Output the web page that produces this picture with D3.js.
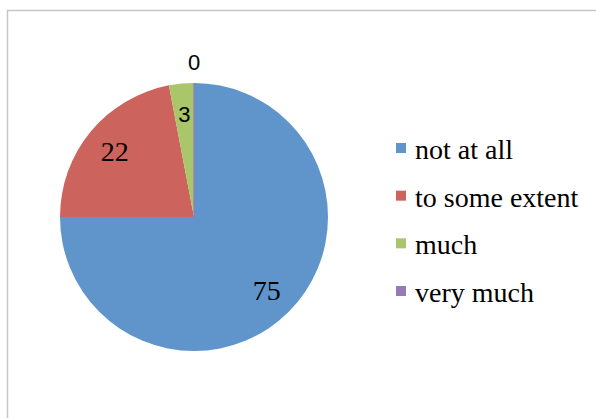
<!DOCTYPE html>
<html><head><meta charset="utf-8">
<script src="https://cdn.jsdelivr.net/npm/d3@7"></script>
<style>html,body{margin:0;padding:0;background:#fff;}svg{display:block;}</style>
</head><body>
<svg id="chart" width="596" height="418"></svg>
<script>
const categories = ["not at all", "to some extent", "much", "very much"];
const values = [75, 22, 3, 0];
const colors = ["#5f95cb", "#cc635d", "#a9c66a", "#9879b7"];

const svg = d3.select("#chart");
svg.append("rect").attr("x", 7.5).attr("y", 10.5).attr("width", 800).attr("height", 800)
  .attr("fill", "#fff").attr("stroke", "#c6c6c6").attr("stroke-width", 1.5);

const cx = 194, cy = 217, r = 134;
const pie = d3.pie().sort(null).value(d => d).startAngle(0).endAngle(2 * Math.PI);
const arcs = pie(values);
const arc = d3.arc().innerRadius(0).outerRadius(r);
const labelArc = d3.arc().innerRadius(103).outerRadius(103);
const outArc = d3.arc().innerRadius(r + 21).outerRadius(r + 21);

const g = svg.append("g").attr("transform", `translate(${cx},${cy})`);
g.selectAll("path.slice").data(arcs).join("path").attr("class", "slice")
  .attr("d", arc).attr("fill", (d, i) => colors[i])
  .attr("stroke", (d, i) => d.value === 0 ? colors[i] : "none").attr("stroke-width", 1.2);

svg.selectAll("text.lbl").data(arcs).join("text").attr("class", "lbl")
  .attr("x", d => cx + (d.value === 0 ? outArc : labelArc).centroid(d)[0])
  .attr("y", d => cy + (d.value === 0 ? outArc : labelArc).centroid(d)[1] + (d.value < 10 ? 8 : 10))
  .attr("text-anchor", "middle")
  .style("font-family", d => d.value < 10 ? '"Liberation Sans"' : '"Liberation Serif"')
  .style("font-size", d => (d.value < 10 ? 22 : 28) + "px")
  .attr("fill", "#000")
  .text(d => d.value);

const ly = d3.scalePoint().domain(categories).range([150, 293]);
svg.selectAll("rect.key").data(categories).join("rect").attr("class", "key")
  .attr("x", 396).attr("y", d => ly(d) - 7).attr("width", 10).attr("height", 10)
  .attr("fill", (d, i) => colors[i]);
svg.selectAll("text.leg").data(categories).join("text").attr("class", "leg")
  .attr("x", 415).attr("y", d => ly(d) + 9)
  .style("font-family", '"Liberation Serif"').style("font-size", "28px")
  .attr("fill", "#000").text(d => d);
</script>
</body></html>
